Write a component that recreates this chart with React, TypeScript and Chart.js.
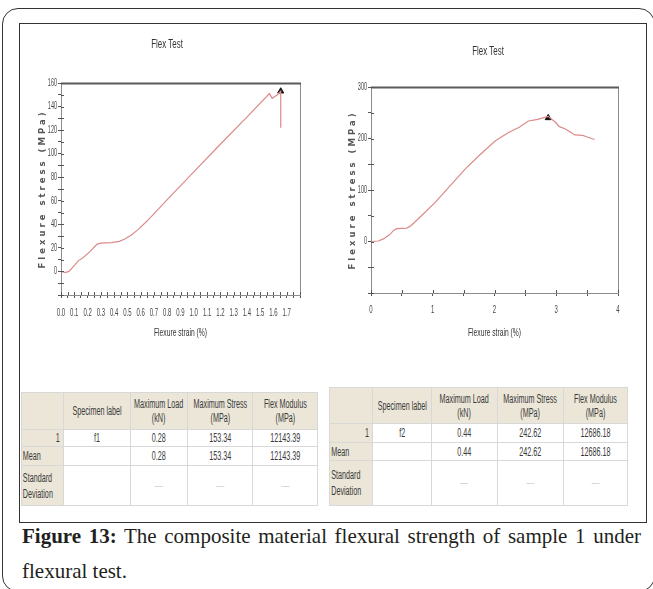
import React, { useEffect, useRef } from 'react';
import { Chart, registerables } from 'chart.js';
Chart.register(...registerables);

// ---- Chart 1 (sample f1) ----
const strain1 = [0, 0.03, 0.06, 0.1, 0.13, 0.17, 0.22, 0.27, 0.3, 0.38, 0.44, 0.48, 0.53, 0.58, 0.65, 0.8, 1.0, 1.2, 1.4, 1.57, 1.59, 1.63, 1.655, 1.655];
const stress1 = [0, -1, 0, 5, 9, 12, 17, 23, 24, 24.5, 25.5, 27.5, 31, 35.5, 43, 61, 84.5, 108, 131, 151, 147, 150, 153, 122];
const peakStrain1 = [1.655];
const peakStress1 = [153];

// ---- Chart 2 (sample f2) ----
const strain2 = [0, 0.12, 0.2, 0.3, 0.37, 0.42, 0.58, 0.65, 0.8, 1.04, 1.28, 1.52, 1.76, 2.01, 2.22, 2.4, 2.55, 2.7, 2.87, 3.0, 3.05, 3.14, 3.22, 3.3, 3.43, 3.5, 3.62];
const stress2 = [0, 1, 5, 13, 22, 25, 26, 31, 48, 76, 108, 140, 168, 195, 211, 222, 234, 237, 243, 230, 223, 219, 213, 207, 206, 203, 198];
const peakStrain2 = [2.87];
const peakStress2 = [240];

// ---- Text ----
const chartTitle = 'Flex Test';
const xAxisTitle = 'Flexure strain (%)';
const yAxisTitle = 'Flexure stress (MPa)';
const caption = 'The composite material flexural strength of sample 1 under flexural test.';
const captionLabel = 'Figure 13:';

// ---- Tables ----
const tableHeaders = [['', ''], ['Specimen label', ''], ['Maximum Load', '(kN)'], ['Maximum Stress', '(MPa)'], ['Flex Modulus', '(MPa)']];
const table1Row = ['1', 'f1', '0.28', '153.34', '12143.39'];
const table1Mean = ['Mean', '', '0.28', '153.34', '12143.39'];
const table2Row = ['1', 'f2', '0.44', '242.62', '12686.18'];
const table2Mean = ['Mean', '', '0.44', '242.62', '12686.18'];
const stdLabel = ['Standard', 'Deviation'];
const stdDash = '-----';

const SANS = '"Liberation Sans", Arial, sans-serif';

function drawText(ctx: any, text: string, x: number, y: number, font: string, sx: number, align: string, color: string) {
  ctx.save();
  ctx.translate(x, y);
  ctx.scale(sx, 1);
  ctx.font = font;
  ctx.fillStyle = color;
  ctx.textAlign = align;
  ctx.textBaseline = 'middle';
  ctx.fillText(text, 0, 0);
  ctx.restore();
}

type Cfg = {
  strain: number[]; stress: number[]; pk: number[]; ps: number[];
  xmin: number; xmax: number; xstep: number; ymin: number; ymax: number; ystep: number;
  xLabel: (v: number) => string; yLabel: (v: number) => string;
  padTop: number; padRight: number; xH: number;
  titleX: number; titleY: number; xLabOff: number; xTitleOff: number;
};

function makeDecor(c: Cfg) {
  return {
    id: 'decor',
    afterDraw(chart: any) {
      const { ctx, chartArea: a, scales } = chart;
      const xs = scales.x, ys = scales.y;
      ctx.save();
      ctx.strokeStyle = '#8c8c8c';
      ctx.lineWidth = 1;
      ctx.strokeRect(Math.round(a.left) + 0.5, Math.round(a.top) + 0.5, Math.round(a.right - a.left), Math.round(a.bottom - a.top));
      ctx.strokeStyle = '#5a5a5a';
      ctx.lineWidth = 2;
      ctx.beginPath();
      ctx.moveTo(a.left, Math.round(a.top) + 0.5);
      ctx.lineTo(a.right + 1, Math.round(a.top) + 0.5);
      ctx.stroke();
      ctx.strokeStyle = '#555';
      ctx.lineWidth = 1;
      ctx.beginPath();
      xs.ticks.forEach((t: any) => {
        const px = Math.round(xs.getPixelForValue(t.value)) + 0.5;
        ctx.moveTo(px, a.bottom);
        ctx.lineTo(px, a.bottom - 3);
      });
      ys.ticks.forEach((t: any) => {
        const py = Math.round(ys.getPixelForValue(t.value)) + 0.5;
        ctx.moveTo(a.left, py);
        ctx.lineTo(a.left + 3, py);
      });
      ctx.stroke();
      ctx.restore();
      xs.ticks.forEach((t: any) => {
        const s = c.xLabel(t.value);
        if (s) drawText(ctx, s, xs.getPixelForValue(t.value), a.bottom + c.xLabOff, '10px ' + SANS, 0.6, 'center', '#444');
      });
      ys.ticks.forEach((t: any) => {
        const s = c.yLabel(t.value);
        if (s) drawText(ctx, s, a.left - 4, ys.getPixelForValue(t.value), '10px ' + SANS, 0.55, 'right', '#444');
      });
      drawText(ctx, chartTitle, c.titleX, c.titleY, '12px ' + SANS, 0.66, 'center', '#333');
      drawText(ctx, xAxisTitle, (a.left + a.right) / 2, a.bottom + c.xTitleOff, '10.5px ' + SANS, 0.64, 'center', '#333');
      ctx.save();
      ctx.translate(a.left - 18, (a.top + a.bottom) / 2);
      ctx.rotate(-Math.PI / 2);
      ctx.font = 'bold 8.5px "DejaVu Sans"';
      (ctx as any).letterSpacing = '3px';
      ctx.fillStyle = '#555';
      ctx.textAlign = 'center';
      ctx.textBaseline = 'middle';
      ctx.fillText(yAxisTitle, 0, 0);
      ctx.restore();
    },
  };
}

function FlexChart({ c, width, height }: { c: Cfg; width: number; height: number }) {
  const ref = useRef<HTMLCanvasElement>(null);
  useEffect(() => {
    const chart = new Chart(ref.current as HTMLCanvasElement, {
      type: 'scatter',
      data: {
        datasets: [
          {
            data: c.strain.map((x, i) => ({ x, y: c.stress[i] })),
            showLine: true,
            borderColor: '#dc8a8a',
            borderWidth: 1.2,
            pointRadius: 0,
            tension: 0,
          },
          {
            data: c.pk.map((x, i) => ({ x, y: c.ps[i] })),
            pointStyle: 'triangle',
            pointRadius: 3.5,
            backgroundColor: '#111',
            borderColor: '#111',
          },
        ],
      } as any,
      options: {
        animation: false,
        responsive: false,
        devicePixelRatio: 1,
        layout: { padding: { top: c.padTop, right: c.padRight, left: 0, bottom: 0 } },
        plugins: { legend: { display: false }, tooltip: { enabled: false }, title: { display: false } },
        scales: {
          x: {
            type: 'linear',
            min: c.xmin, max: c.xmax,
            ticks: { display: false, stepSize: c.xstep },
            grid: { drawOnChartArea: false, drawTicks: true, tickLength: 3, color: '#555' },
            border: { display: false },
            afterFit: (s: any) => { s.height = c.xH; },
          },
          y: {
            type: 'linear',
            min: c.ymin, max: c.ymax,
            ticks: { display: false, stepSize: c.ystep },
            grid: { drawOnChartArea: false, drawTicks: true, tickLength: 3, color: '#555' },
            border: { display: false },
            afterFit: (s: any) => { s.width = 41; },
          },
        },
      } as any,
      plugins: [makeDecor(c)],
    });
    return () => chart.destroy();
  }, []);
  return <canvas ref={ref} width={width} height={height} style={{ width, height, display: 'block' }} />;
}

const cfg1: Cfg = {
  strain: strain1, stress: stress1, pk: peakStrain1, ps: peakStress1,
  xmin: 0, xmax: 1.8, xstep: 0.05, ymin: -20, ymax: 160, ystep: 10,
  xLabel: (v) => { const k = Math.round(v * 100); return k % 10 === 0 && k <= 170 ? (k / 100).toFixed(1) : ''; },
  yLabel: (v) => (v >= 0 && Math.round(v) % 20 === 0 ? String(Math.round(v)) : ''),
  padTop: 59, padRight: 20, xH: 69,
  titleX: 147, titleY: 21, xLabOff: 18, xTitleOff: 38,
};

const cfg2: Cfg = {
  strain: strain2, stress: stress2, pk: peakStrain2, ps: peakStress2,
  xmin: 0, xmax: 4, xstep: 0.5, ymin: -100, ymax: 300, ystep: 50,
  xLabel: (v) => (Math.abs(v - Math.round(v)) < 1e-6 ? String(Math.round(v)) : ''),
  yLabel: (v) => (v >= 0 && Math.round(v) % 100 === 0 ? String(Math.round(v)) : ''),
  padTop: 63, padRight: 22, xH: 71,
  titleX: 158, titleY: 28, xLabOff: 17, xTitleOff: 40,
};

const cellBase: React.CSSProperties = {
  border: '1px solid #d8d8d8',
  fontFamily: SANS,
  fontSize: 12,
  lineHeight: '14px',
  color: '#3a3a3a',
  padding: 0,
  verticalAlign: 'middle',
};
const beige = '#ebe6d8';
const SX = 0.6;

function T({ children, align, pad }: { children: any; align: 'left' | 'right' | 'center'; pad?: number }) {
  const w = 100 / SX;
  return (
    <div style={{ width: w + '%', marginLeft: -(w - 100) / 2 + '%', transform: `scaleX(${SX})`, textAlign: align, whiteSpace: 'nowrap', boxSizing: 'border-box', paddingLeft: pad || 0, paddingRight: pad || 0 }}>
      {children}
    </div>
  );
}

function DataTable({ left, top, cols, rows, row, mean }: { left: number; top: number; cols: number[]; rows: number[]; row: string[]; mean: string[] }) {
  const total = cols.reduce((s, v) => s + v, 0);
  return (
    <table style={{ position: 'absolute', left, top, width: total, borderCollapse: 'collapse', tableLayout: 'fixed' }}>
      <colgroup>{cols.map((w, i) => <col key={i} style={{ width: w }} />)}</colgroup>
      <tbody>
        <tr style={{ height: rows[0] }}>
          {tableHeaders.map((h, i) => (
            <td key={i} style={{ ...cellBase, background: beige }}>
              <T align="center">{h[0]}{h[1] ? <><br />{h[1]}</> : null}</T>
            </td>
          ))}
        </tr>
        <tr style={{ height: rows[1] }}>
          {row.map((v, i) => (
            <td key={i} style={{ ...cellBase, background: i === 0 ? beige : '#fff' }}>
              <T align={i === 0 ? 'right' : 'center'} pad={5}>{v}</T>
            </td>
          ))}
        </tr>
        <tr style={{ height: rows[2] }}>
          {mean.map((v, i) => (
            <td key={i} style={{ ...cellBase, background: i === 0 ? beige : '#fff' }}>
              <T align={i === 0 ? 'left' : 'center'} pad={2}>{v}</T>
            </td>
          ))}
        </tr>
        <tr style={{ height: rows[3] }}>
          <td style={{ ...cellBase, background: beige, lineHeight: '16px' }}>
            <T align="left" pad={2}>{stdLabel[0]}<br />{stdLabel[1]}</T>
          </td>
          <td style={{ ...cellBase, background: '#fff' }}></td>
          {[0, 1, 2].map((i) => (
            <td key={i} style={{ ...cellBase, background: '#fff', fontSize: 8, color: '#aaa' }}>
              <T align="center">{stdDash}</T>
            </td>
          ))}
        </tr>
      </tbody>
    </table>
  );
}

export default function App() {
  return (
    <div style={{ position: 'absolute', left: 0, top: 0, width: 653, height: 589, overflow: 'hidden', background: '#fff' }}>
      <div style={{ position: 'absolute', left: 2, top: 8, width: 653, height: 584, border: '1.5px solid #333', borderRadius: 16, boxSizing: 'border-box' }} />
      <div style={{ position: 'absolute', left: 19, top: 23, width: 628, height: 500, border: '1px solid #333', boxSizing: 'border-box' }} />
      <div style={{ position: 'absolute', left: 20, top: 24 }}>
        <FlexChart c={cfg1} width={300} height={340} />
      </div>
      <div style={{ position: 'absolute', left: 330, top: 24 }}>
        <FlexChart c={cfg2} width={310} height={340} />
      </div>
      <DataTable left={21} top={392} cols={[42, 67, 57, 65, 65]} rows={[37, 17, 19, 40]} row={table1Row} mean={table1Mean} />
      <DataTable left={329} top={387} cols={[43, 59, 66, 66, 64]} rows={[36, 19, 18, 45]} row={table2Row} mean={table2Mean} />
      <div style={{ position: 'absolute', left: 22, top: 519, width: 619, fontFamily: '"Liberation Serif", "DejaVu Serif", serif', fontSize: 21, lineHeight: '35px', color: '#231f20', textAlign: 'justify' }}>
        <b>{captionLabel}</b> {caption}
      </div>
    </div>
  );
}
